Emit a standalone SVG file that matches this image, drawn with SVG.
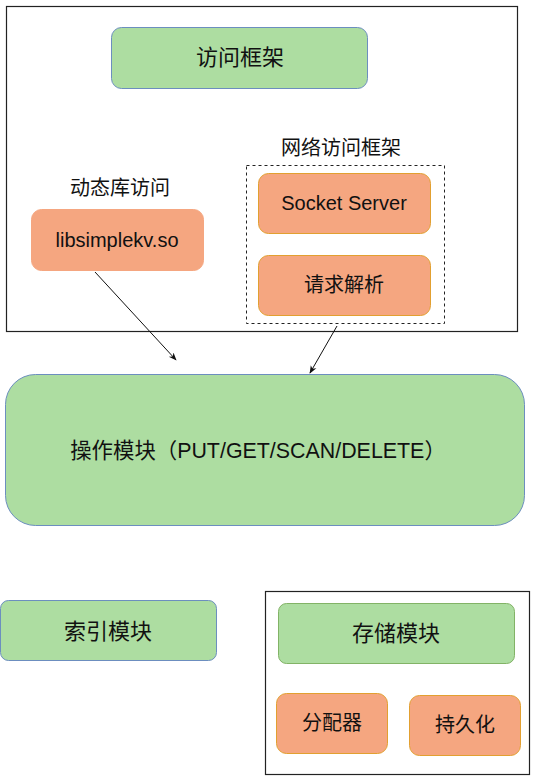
<svg xmlns="http://www.w3.org/2000/svg" width="535" height="780" viewBox="0 0 535 780">
<defs>
<style>
text{font-family:"Liberation Sans","Noto Sans CJK SC",Arial,sans-serif;fill:#111;text-anchor:middle;dominant-baseline:central}
.green{fill:#addda1;stroke:#6c8ebf;stroke-width:1}
.greeng{fill:#addda1;stroke:#82b366;stroke-width:1}
.orange{fill:#f5a680;stroke:#e2a030;stroke-width:1}
.frame{fill:#fff;stroke:#222;stroke-width:1.2}
.conn{stroke:#111;stroke-width:1;fill:none;marker-end:url(#arr)}
</style>
<marker id="arr" viewBox="0 0 10 10" refX="9" refY="5" markerWidth="8" markerHeight="8" orient="auto" markerUnits="userSpaceOnUse">
<path d="M0,1 L10,5 L0,9 L3,5 z" fill="#111"/>
</marker>
</defs>
<rect width="535" height="780" fill="#fff"/>
<g id="access-frame">
<rect class="frame" x="6.5" y="6.5" width="511" height="325"/>
</g>
<g id="access">
<rect class="green" x="111.5" y="27.5" width="256" height="61" rx="10"/>
<text x="240" y="57" font-size="22">访问框架</text>
</g>
<g id="dynlib">
<text x="120" y="188" font-size="20">动态库访问</text>
<rect x="31.5" y="209.5" width="172" height="61" rx="10" fill="#f5a680" stroke="#f5a680"/>
<text x="117" y="240" font-size="20">libsimplekv.so</text>
</g>
<g id="net-frame">
<text x="341" y="148" font-size="20">网络访问框架</text>
<rect x="246.5" y="165.5" width="198" height="158" fill="none" stroke="#222" stroke-dasharray="3,3"/>
</g>
<g id="socket">
<rect class="orange" x="258.5" y="173.5" width="172" height="60" rx="10"/>
<text x="344" y="203" font-size="20">Socket Server</text>
</g>
<g id="parse">
<rect class="orange" x="258.5" y="255.5" width="172" height="60" rx="10"/>
<text x="344" y="285" font-size="20">请求解析</text>
</g>
<g id="ops">
<rect class="green" x="5.5" y="374.5" width="519" height="151" rx="30"/>
<text x="258" y="451" font-size="21.4">操作模块（PUT/GET/SCAN/DELETE）</text>
</g>
<g id="index">
<rect class="green" x="0.5" y="600.5" width="216" height="60" rx="8"/>
<text x="108" y="631" font-size="22">索引模块</text>
</g>
<g id="storage-frame">
<rect class="frame" x="265.5" y="591.5" width="264" height="183"/>
</g>
<g id="storage">
<rect class="greeng" x="278.5" y="603.5" width="236" height="60" rx="8"/>
<text x="396" y="633" font-size="22">存储模块</text>
</g>
<g id="alloc">
<rect class="orange" x="276.5" y="693.5" width="111" height="60" rx="10"/>
<text x="332" y="723" font-size="20">分配器</text>
</g>
<g id="persist">
<rect class="orange" x="409.5" y="695.5" width="111" height="60" rx="10"/>
<text x="465" y="725" font-size="20">持久化</text>
</g>
<g id="connectors">
<path class="conn" d="M95,272 L176,360"/>
<path class="conn" d="M337,326 L310,373"/>
</g>
</svg>
